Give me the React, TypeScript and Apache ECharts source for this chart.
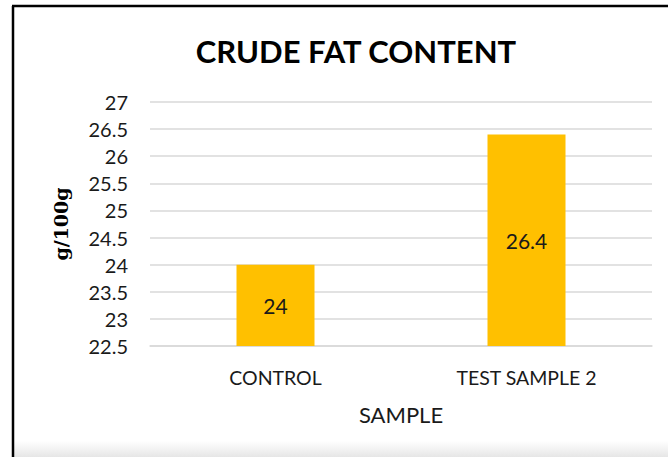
import React, { useEffect, useRef } from "react";
import * as echarts from "echarts";

const categories = ["CONTROL", "TEST SAMPLE 2"];
const values = [24, 26.4];
const yMin = 22.5;
const yMax = 27;
const yInterval = 0.5;

export default function App() {
  const ref = useRef<HTMLDivElement>(null);
  useEffect(() => {
    document.body.style.margin = "0";
    const chart = echarts.init(ref.current!, null, { renderer: "svg" });
    chart.setOption({
      animation: false,
      backgroundColor: "#ffffff",
      title: {
        text: "CRUDE FAT CONTENT",
        left: 351,
        top: 30,
        textAlign: "center",
        textStyle: { fontFamily: "Lato", fontWeight: "bold", fontSize: 31, color: "#000000" },
      },
      grid: { left: 150, right: 16, top: 102, bottom: 111 },
      xAxis: {
        type: "category",
        data: categories,
        axisLine: { lineStyle: { color: "#d9d9d9", width: 1.5 } },
        axisTick: { show: false },
        axisLabel: { fontFamily: "Lato", fontSize: 19.5, color: "#1a1a1a", margin: 21 },
        name: "SAMPLE",
        nameLocation: "middle",
        nameGap: 57,
        nameTextStyle: { fontFamily: "Lato", fontSize: 22, color: "#1a1a1a" },
      },
      yAxis: {
        type: "value",
        min: yMin,
        max: yMax,
        interval: yInterval,
        axisLine: { show: false },
        axisTick: { show: false },
        splitLine: { lineStyle: { color: "#d9d9d9", width: 1.5 } },
        axisLabel: { fontFamily: "Lato", fontSize: 20, color: "#1a1a1a", margin: 22 },
        name: "g/100g",
        nameLocation: "middle",
        nameGap: 80,
        nameRotate: 90,
        nameTextStyle: { fontFamily: "DejaVu Serif", fontWeight: "bold", fontSize: 19, color: "#000000" },
      },
      series: [
        {
          type: "bar",
          data: values,
          barWidth: 78,
          itemStyle: { color: "#ffc000" },
          label: {
            show: true,
            position: "inside",
            fontFamily: "Lato",
            fontSize: 21,
            color: "#1a1a1a",
          },
        },
      ],
      graphic: [
        {
          type: "rect",
          shape: { x: 14, y: 441, width: 654, height: 16 },
          style: {
            fill: new echarts.graphic.LinearGradient(0, 0, 0, 1, [
              { offset: 0, color: "#ffffff" },
              { offset: 1, color: "#e6e6e6" },
            ]),
          },
          silent: true,
        },
        { type: "line", shape: { x1: 13, y1: 6, x2: 13, y2: 457 }, style: { stroke: "#000000", lineWidth: 2.5 } },
        { type: "line", shape: { x1: 12, y1: 6, x2: 668, y2: 6 }, style: { stroke: "#000000", lineWidth: 2.5 } },
      ],
    });
    return () => chart.dispose();
  }, []);
  return <div ref={ref} style={{ position: "absolute", left: 0, top: 0, width: 668, height: 457 }} />;
}
